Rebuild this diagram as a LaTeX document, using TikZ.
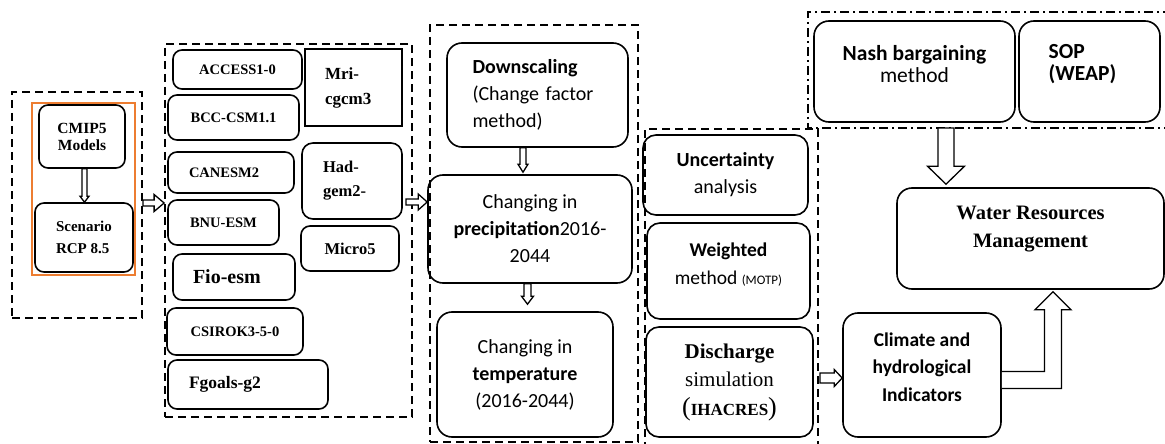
\documentclass[tikz,border=0pt]{standalone}
\usepackage{fontspec}
\setmainfont{Liberation Serif}
\newfontfamily\calib{Carlito}
\usetikzlibrary{calc}
\definecolor{orng}{RGB}{237,125,49}
\newcommand{\fsz}[2]{\fontsize{#1}{#2}\selectfont}
\tikzset{
  rbox/.style={draw, line width=1.6pt, rounded corners=#1, inner sep=0pt, align=center},
  rbox/.default=9pt,
  grp/.style={draw, line width=1.8pt, dash pattern=on 8pt off 5pt, inner sep=0pt},
  grpdd/.style={draw, line width=1.8pt, dash pattern=on 9pt off 4pt on 2pt off 4pt},
  arr/.style={draw, fill=white, line width=1.3pt, line join=miter},
  harr/.style n args={3}{to path={let \p1=(\tikztostart),\p2=(\tikztotarget) in (\x1,\y1+#1) -- (\x2-#2,\y1+#1) -- (\x2-#2,\y1+#3) -- (\x2,\y1) -- (\x2-#2,\y1-#3) -- (\x2-#2,\y1-#1) -- (\x1,\y1-#1) -- cycle}},
  varr/.style n args={3}{to path={let \p1=(\tikztostart),\p2=(\tikztotarget) in (\x1-#1,\y1) -- (\x1-#1,\y2+#2) -- (\x1-#3,\y2+#2) -- (\x1,\y2) -- (\x1+#3,\y2+#2) -- (\x1+#1,\y2+#2) -- (\x1+#1,\y1) -- cycle}},
  earr/.style n args={3}{to path={let \p1=(\tikztostart),\p2=(\tikztotarget) in (\x1,\y1+#1) -- (\x2-#1,\y1+#1) -- (\x2-#1,\y2-#2) -- (\x2-#3,\y2-#2) -- (\x2,\y2) -- (\x2+#3,\y2-#2) -- (\x2+#1,\y2-#2) -- (\x2+#1,\y1-#1) -- (\x1,\y1-#1)}},
  gtwo/.style={rbox, font=\fsz{14.5}{17}\bfseries},
  cal/.style={font=\calib\fsz{20}{27}},
}
\begin{document}
\begin{tikzpicture}[x=1pt,y=-1pt]
\useasboundingbox (0,0) rectangle (1165,444);

% ---------- group 1
\node[grp, minimum width=130pt, minimum height=226pt] (g1) at (77,205) {};
\draw[orng, line width=1.5pt] (32,103) rectangle (135,275);
\node[rbox, minimum width=86pt, minimum height=63pt, font=\fsz{15.5}{17}\bfseries] (cmip) at (82,136.5) {CMIP5\\Models};
\node[rbox, minimum width=98pt, minimum height=69pt, align=left, font=\fsz{15}{22}\bfseries] (scen) at (84,237.5) {Scenario\\RCP 8.5};

% ---------- group 2
\node[grp, minimum width=247pt, minimum height=373pt] (g2) at (288.5,230.5) {};
\node[gtwo, minimum width=129pt, minimum height=39pt] (access) at (237.5,69.5) {ACCESS1-0};
\node[draw, line width=2.5pt, inner sep=0pt, minimum width=97pt, minimum height=77pt, text width=57pt, align=left, font=\fsz{17}{25}\bfseries] (mri) at (353.5,87.5) {Mri-\\cgcm3};
\node[gtwo, minimum width=131pt, minimum height=45pt] (bcc) at (233.5,117.5) {BCC-CSM1.1};
\node[gtwo, minimum width=126pt, minimum height=41pt, text width=84pt, align=left] (canesm) at (231,172.5) {CANESM2};
\node[rbox=11pt, minimum width=100pt, minimum height=76pt, text width=58pt, align=left, font=\fsz{16.5}{24}\bfseries] (had) at (352,181) {Had-\\gem2-};
\node[gtwo, minimum width=111pt, minimum height=45pt] (bnu) at (223.5,222.5) {BNU-ESM};
\node[rbox, minimum width=98pt, minimum height=45pt, font=\fsz{16.5}{20}\bfseries] (micro) at (350,248.5) {Micro5};
\node[rbox, minimum width=122pt, minimum height=46pt, text width=82pt, align=left, font=\fsz{20}{24}\bfseries] (fio) at (234,277) {Fio-esm};
\node[gtwo, minimum width=136pt, minimum height=47pt] (csiro) at (235,331.5) {CSIROK3-5-0};
\node[rbox, minimum width=160pt, minimum height=49pt, text width=118pt, align=left, font=\fsz{17.5}{20}\bfseries] (fgoals) at (248,384.5) {Fgoals-g2};

% ---------- group 3
\node[grp, minimum width=208pt, minimum height=417pt] (g3) at (534,233.5) {};
\node[rbox=15pt, cal, minimum width=181pt, minimum height=104pt, text width=130pt, align=left] (down) at (537.5,95) {\textbf{Downscaling}\\(Change factor\\method)};
\node[rbox=15pt, cal, minimum width=204pt, minimum height=108pt] (prec) at (530,229) {Changing in\\\textbf{precipitation}2016-\\2044};
\node[rbox=15pt, cal, minimum width=176pt, minimum height=125pt] (temp) at (525,374.5) {Changing in\\\textbf{temperature}\\(2016-2044)};

% ---------- group 4
\draw[grp] (645,450) -- (645,129) -- (818,129) -- (818,450);
\node[rbox=13pt, cal, minimum width=165pt, minimum height=80pt] (unc) at (725.5,175) {\textbf{Uncertainty}\\analysis};
\node[rbox=13pt, minimum width=163pt, minimum height=96pt] (wei) at (728.5,271) {};
\node[cal, align=center, inner sep=0pt, font=\calib\fsz{19.5}{28}] (weiT) at (728.5,264.5) {\textbf{Weighted}\\method {\fsz{13}{13}(MOTP)}};
\node[rbox=13pt, minimum width=167pt, minimum height=110pt, font=\fsz{21}{28.5}] (dis) at (729.5,382) {\textbf{Discharge}\\simulation\\{\fsz{26}{28}(}{\bfseries\fsz{17}{28}IHACRES}{\fsz{26}{28})}};

% ---------- group 5
\draw[grpdd] (1172,12) -- (808,12) -- (808,128) -- (1172,128);
\node[rbox=15pt, minimum width=201pt, minimum height=101pt] (nash) at (914.5,71.5) {};
\node[inner sep=0pt, align=center, font=\calib\fsz{21.5}{22}] (nashT) at (914.5,64.5) {\textbf{Nash bargaining}\\method};
\node[rbox=15pt, minimum width=141pt, minimum height=101pt] (sop) at (1089.5,71.5) {};
\node[inner sep=0pt, align=left, font=\calib\fsz{21.5}{22}\bfseries] (sopT) at (1082.5,64) {SOP\\(WEAP)};

% ---------- right part
\node[rbox=15pt, minimum width=267pt, minimum height=101pt] (water) at (1030.5,238.5) {};
\node[inner sep=0pt, align=center, font=\fsz{20.5}{28}\bfseries] (waterT) at (1030.5,229) {Water Resources\\Management};
\node[rbox=15pt, minimum width=158pt, minimum height=124pt] (clim) at (922,375) {};
\node[inner sep=0pt, align=center, font=\calib\fsz{19.5}{27.5}\bfseries] (climT) at (922,367) {Climate and\\hydrological\\Indicators};

% ---------- arrows
\coordinate (t2) at (406,202);
\coordinate (t3) at (820,378);
\coordinate (g5b) at (946,128);
\draw[arr] ([yshift=2pt]g1.east) to[harr={3pt}{10pt}{8.5pt}] (g2.west);
\draw[arr] (t2) to[harr={3pt}{9pt}{8pt}] (prec.west);
\draw[arr] (t3) to[harr={5pt}{8pt}{8.5pt}] (clim.west);
\draw[arr] ([xshift=2.5pt]cmip.south) to[varr={2.5pt}{6pt}{4.5pt}] (scen.north);
\draw[arr] ([xshift=-14.5pt]down.south) to[varr={3pt}{8pt}{5pt}] ([yshift=2pt]prec.north);
\draw[arr] ([xshift=-2.5pt]prec.south) to[varr={3.5pt}{8pt}{6pt}] ([yshift=7pt]temp.north);
\draw[arr] (g5b) to[varr={8pt}{18pt}{18.5pt}] ([yshift=3pt]water.north);
\draw[arr] ([yshift=-5pt]clim.east) to[earr={8.5pt}{18pt}{18pt}] ([xshift=22.5pt,yshift=-2pt]water.south);
\end{tikzpicture}
\end{document}
